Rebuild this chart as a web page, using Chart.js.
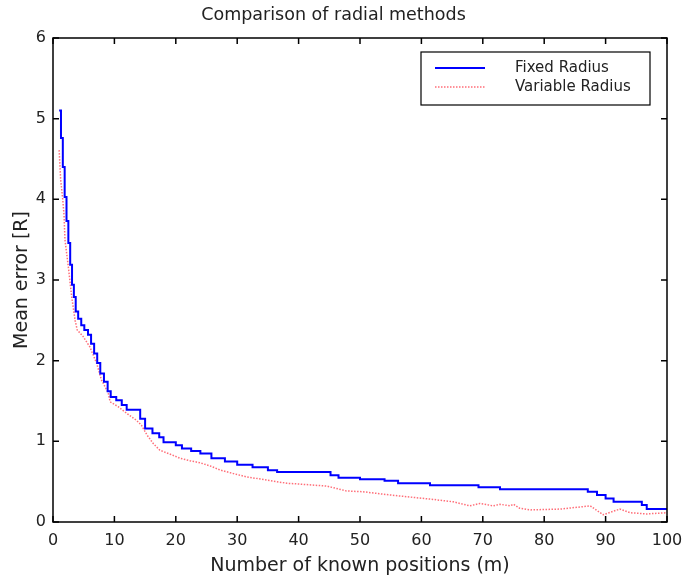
<!DOCTYPE html>
<html>
<head>
<meta charset="utf-8">
<script src="https://cdn.jsdelivr.net/npm/chart.js@4/dist/chart.umd.min.js"></script>
<style>
  html, body { margin: 0; padding: 0; background: #fff; }
  #wrap { width: 683px; height: 583px; }
</style>
</head>
<body>
<div id="wrap"><canvas id="chart"></canvas></div>
<script>
const fixedX = [1, 1.3, 1.6, 1.9, 2.2, 2.5, 2.8, 3.1, 3.4, 3.7, 4.1, 4.6, 5.1, 5.7, 6.2, 6.7, 7.2, 7.7, 8.3, 8.9, 9.4, 10.3, 11.2, 12.0, 14.2, 15.0, 16.2, 17.3, 18.0, 20.0, 21.0, 22.5, 24.0, 25.8, 28.0, 30.0, 32.5, 35.0, 36.5, 45.2, 46.5, 50.0, 54.0, 56.2, 61.4, 69.3, 72.8, 87.1, 88.6, 90.0, 91.3, 95.9, 96.7, 100];
const fixedY = [5.1, 4.76, 4.40, 4.03, 3.73, 3.46, 3.19, 2.94, 2.79, 2.61, 2.52, 2.44, 2.38, 2.32, 2.21, 2.09, 1.97, 1.84, 1.74, 1.62, 1.55, 1.51, 1.45, 1.39, 1.28, 1.16, 1.10, 1.05, 0.99, 0.95, 0.91, 0.88, 0.85, 0.79, 0.75, 0.71, 0.68, 0.64, 0.62, 0.58, 0.55, 0.53, 0.51, 0.48, 0.455, 0.43, 0.405, 0.375, 0.335, 0.29, 0.25, 0.21, 0.16, 0.16];

const variableX = [1, 1.25, 1.6, 1.8, 1.95, 2.5, 3.05, 3.6, 3.95, 4.9, 6.0, 7.1, 7.9, 9.0, 9.3, 10.6, 12.3, 13.6, 14.4, 15.3, 16.3, 17.4, 19.1, 20.7, 22.3, 23.9, 25.6, 27.2, 29.4, 31.5, 34.8, 38.1, 40.2, 44.6, 47.8, 50.5, 54.9, 58.7, 61.9, 65.2, 67.9, 69.5, 71.7, 72.8, 74.4, 75, 76, 77.7, 82.6, 87.5, 89.6, 92.3, 94, 96.7, 100];
const variableY = [4.61, 4.24, 3.99, 3.8, 3.5, 3.16, 2.79, 2.50, 2.38, 2.30, 2.17, 1.97, 1.76, 1.60, 1.49, 1.43, 1.33, 1.26, 1.20, 1.08, 0.975, 0.89, 0.84, 0.79, 0.76, 0.735, 0.695, 0.645, 0.60, 0.56, 0.52, 0.48, 0.47, 0.445, 0.385, 0.375, 0.335, 0.305, 0.28, 0.25, 0.20, 0.23, 0.20, 0.22, 0.20, 0.22, 0.17, 0.15, 0.16, 0.20, 0.09, 0.16, 0.115, 0.10, 0.115];

const seriesNames = ["Fixed Radius", "Variable Radius"];
const xTicks = [0, 10, 20, 30, 40, 50, 60, 70, 80, 90, 100];
const yTicks = [0, 1, 2, 3, 4, 5, 6];

const FONT = "'DejaVu Sans', sans-serif";

function toPoints(xs, ys) {
  return xs.map((x, i) => ({ x, y: ys[i] }));
}

// frame round the plot with inward ticks on all four sides (matlab look)
const framePlugin = {
  id: "frame",
  afterDraw(chart) {
    const { ctx, chartArea: a, scales } = chart;
    const len = 6;
    ctx.save();
    ctx.strokeStyle = "#000";
    ctx.lineWidth = 1.5;
    ctx.strokeRect(a.left, a.top, a.right - a.left, a.bottom - a.top);
    ctx.beginPath();
    xTicks.forEach(v => {
      const px = scales.x.getPixelForValue(v);
      ctx.moveTo(px, a.bottom); ctx.lineTo(px, a.bottom - len);
      ctx.moveTo(px, a.top); ctx.lineTo(px, a.top + len);
    });
    yTicks.forEach(v => {
      const py = scales.y.getPixelForValue(v);
      ctx.moveTo(a.left, py); ctx.lineTo(a.left + len, py);
      ctx.moveTo(a.right, py); ctx.lineTo(a.right - len, py);
    });
    ctx.stroke();
    ctx.restore();
  }
};

// legend box inside the upper right corner
const boxLegend = {
  id: "boxLegend",
  afterDraw(chart) {
    const { ctx } = chart;
    const x0 = 421, y0 = 52, w = 229, h = 53;
    ctx.save();
    ctx.fillStyle = "#fff";
    ctx.fillRect(x0, y0, w, h);
    ctx.strokeStyle = "#000";
    ctx.lineWidth = 1.2;
    ctx.strokeRect(x0, y0, w, h);
    ctx.font = "15px " + FONT;
    ctx.textBaseline = "middle";
    chart.data.datasets.forEach((ds, i) => {
      const y = y0 + 16 + i * 19;
      ctx.strokeStyle = ds.borderColor;
      ctx.lineWidth = ds.borderWidth;
      ctx.setLineDash(ds.borderDash || []);
      ctx.beginPath();
      ctx.moveTo(x0 + 14, y);
      ctx.lineTo(x0 + 64, y);
      ctx.stroke();
      ctx.setLineDash([]);
      ctx.fillStyle = "#222";
      ctx.fillText(ds.label, x0 + 94, y);
    });
    ctx.restore();
  }
};

new Chart(document.getElementById("chart"), {
  type: "line",
  data: {
    datasets: [
      {
        label: seriesNames[0],
        data: toPoints(fixedX, fixedY),
        borderColor: "#0000ff",
        borderWidth: 2,
        stepped: "before",
        pointRadius: 0,
        fill: false
      },
      {
        label: seriesNames[1],
        data: toPoints(variableX, variableY),
        borderColor: "rgb(255,110,120)",
        borderWidth: 1.5,
        borderDash: [1.5, 1.5],
        pointRadius: 0,
        tension: 0,
        fill: false
      }
    ]
  },
  options: {
    responsive: true,
    maintainAspectRatio: false,
    animation: false,
    layout: { padding: { left: 0, right: 16, top: 0, bottom: 0 } },
    plugins: {
      legend: { display: false },
      tooltip: { enabled: false },
      title: {
        display: true,
        text: "Comparison of radial methods",
        color: "#222",
        font: { family: FONT, size: 17.5, weight: "normal" },
        padding: { top: 4.5, bottom: 12.5 }
      }
    },
    scales: {
      x: {
        type: "linear",
        min: 0,
        max: 100,
        afterBuildTicks: s => { s.ticks = xTicks.map(v => ({ value: v })); },
        afterFit: s => { s.height = 61; s.paddingLeft = 0; s.paddingRight = 0; },
        grid: { display: false, drawTicks: false },
        border: { display: false },
        ticks: { color: "#222", padding: 9, maxRotation: 0, font: { family: FONT, size: 16 } },
        title: {
          display: true,
          text: "Number of known positions (m)",
          color: "#222",
          font: { family: FONT, size: 19 },
          padding: { top: 0, bottom: 5.5 }
        }
      },
      y: {
        min: 0,
        max: 6,
        afterBuildTicks: s => { s.ticks = yTicks.map(v => ({ value: v })); },
        afterFit: s => { s.width = 53; s.paddingTop = 0; s.paddingBottom = 0; },
        grid: { display: false, drawTicks: false },
        border: { display: false },
        ticks: { color: "#222", padding: 7, font: { family: FONT, size: 16 } },
        title: {
          display: true,
          text: "Mean error [R]",
          color: "#222",
          font: { family: FONT, size: 19 },
          padding: { top: 10.5, bottom: 0 }
        }
      }
    }
  },
  plugins: [framePlugin, boxLegend]
});
</script>
</body>
</html>
